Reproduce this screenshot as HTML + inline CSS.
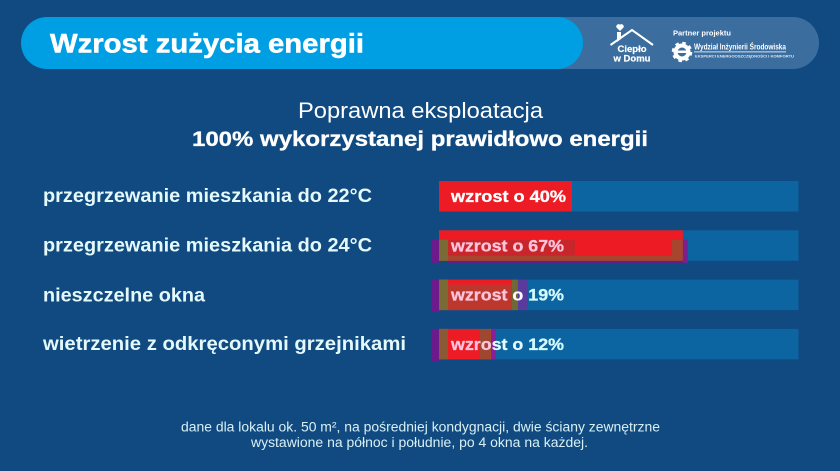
<!DOCTYPE html>
<html lang="pl">
<head>
<meta charset="utf-8">
<title>Wzrost zużycia energii</title>
<style>
html,body{margin:0;padding:0;background:#114a80;}
body{width:840px;height:471px;overflow:hidden;}
svg{display:block;font-family:"Liberation Sans",sans-serif;}
</style>
</head>
<body>
<svg id="chart" width="840" height="471" viewBox="0 0 840 471" xmlns="http://www.w3.org/2000/svg">
  <rect width="840" height="471" fill="#114a80"/>
  <rect x="300" y="17" width="519" height="52" rx="26" fill="#3b6d9f"/>
  <rect x="21" y="17" width="562" height="52" rx="26" fill="#009ee2"/>
  <text x="50" y="52.500" font-size="27" font-weight="bold" fill="#fff" stroke="#fff" stroke-width="0.500" textLength="314" lengthAdjust="spacingAndGlyphs">Wzrost zużycia energii</text>

  <g>
    <path d="M610.500 45 L632 30 L653 45" fill="none" stroke="#fff" stroke-width="2"/>
    <path d="M617 42 L621 39 V32 H617 Z" fill="#fff"/>
    <path d="M620 31 l-3.500 -3.500 a2.300 2.300 0 0 1 3.500 -2.800 a2.300 2.300 0 0 1 3.500 2.800 z" fill="#fff"/>
    <text x="632" y="52" font-size="9.500" font-weight="bold" fill="#fff" text-anchor="middle" stroke="#fff" stroke-width="0.200">Ciepło</text>
    <text x="632" y="61.500" font-size="9.500" font-weight="bold" fill="#fff" text-anchor="middle" stroke="#fff" stroke-width="0.200">w Domu</text>
  </g>
  <g>
    <text x="673" y="35.500" font-size="7.500" font-weight="bold" fill="#fff" textLength="58" lengthAdjust="spacingAndGlyphs">Partner projektu</text>
    <circle cx="682" cy="52" r="6.500" fill="none" stroke="#fff" stroke-width="4"/>
    <circle cx="682" cy="52" r="9" fill="none" stroke="#fff" stroke-width="2.500" stroke-dasharray="3.500 3.570"/>
    <rect x="676" y="50.500" width="12" height="2.500" fill="#fff"/>
    <text x="694" y="49.500" font-size="8.500" font-weight="bold" fill="#fff" textLength="92" lengthAdjust="spacingAndGlyphs">Wydział Inżynierii Środowiska</text>
    <rect x="694" y="51.500" width="92" height="0.800" fill="#fff"/>
    <text x="695" y="57.500" font-size="3.800" font-weight="bold" fill="#dfe9f3" textLength="99" lengthAdjust="spacingAndGlyphs">EKSPERCI ENERGOOSZCZĘDNOŚCI I KOMFORTU</text>
  </g>

  <text x="420.500" y="118" font-size="22" fill="#fff" text-anchor="middle" textLength="245" lengthAdjust="spacingAndGlyphs">Poprawna eksploatacja</text>
  <text x="420" y="146" font-size="21" font-weight="bold" fill="#fff" stroke="#fff" stroke-width="0.300" text-anchor="middle" textLength="456" lengthAdjust="spacingAndGlyphs">100% wykorzystanej prawidłowo energii</text>

  <g id="rows"></g>

  <text x="420.500" y="431.500" font-size="13.500" fill="#d8f0f5" text-anchor="middle" textLength="479" lengthAdjust="spacingAndGlyphs">dane dla lokalu ok. 50 m², na pośredniej kondygnacji, dwie ściany zewnętrzne</text>
  <text x="419.500" y="447" font-size="13.500" fill="#d8f0f5" text-anchor="middle" textLength="337" lengthAdjust="spacingAndGlyphs">wystawione na północ i południe, po 4 okna na każdej.</text>
</svg>
<script>
const categories = ["przegrzewanie mieszkania do 22°C", "przegrzewanie mieszkania do 24°C", "nieszczelne okna", "wietrzenie z odkręconymi grzejnikami"];
const growthPercent = [40, 67, 19, 12];
/* The infographic does not draw its rows to one common scale: drawn track units per percent point. */
const rowScale = [3.325, 3.64, 3.84, 3.42];

const NS = "http://www.w3.org/2000/svg";
const rowsGroup = document.getElementById("rows");
const TRACK_X = 439, TRACK_W = 359.5, ROW_H = 30.5;

function xScale(i, v) { return TRACK_X + v * rowScale[i]; }
function yScale(i) { return 181 + i * 49.3; }

function make(tag, attrs, parent) {
  const el = document.createElementNS(NS, tag);
  for (const k in attrs) el.setAttribute(k, attrs[k]);
  parent.appendChild(el);
  return el;
}
function box(parent, x, y, w, h, fill) {
  return make("rect", { x: x, y: y, width: Math.max(0, w), height: h, fill: fill }, parent);
}

categories.forEach(function (name, i) {
  const g = make("g", {}, rowsGroup);
  
  
  const top = yScale(i);
  const end = xScale(i, growthPercent[i]);

  const label = make("text", { x: 43, y: top + 21 + (i === 2 ? 1 : 0), "font-size": 19.5, "font-weight": "bold", fill: "#e4f9fb" }, g);
  
  
  label.textContent = name;
  const labelWidths = [329, 329, 162, 363];
  label.setAttribute("textLength", labelWidths[i]);
  label.setAttribute("lengthAdjust", "spacingAndGlyphs");

  const track = box(g, TRACK_X, top, TRACK_W, ROW_H, "#0c64a0");
  
  

  const bar = box(g, TRACK_X, top, end - TRACK_X, ROW_H, "#ed1c24");
  
  

  if (i > 0) {
    const ghost = make("g", {}, g);
    
    
    const gTop = i === 1 ? top + 9.5 : top;
    const gH = top + ROW_H + 2 - gTop;
    if (i === 1) {
      box(ghost, 448, gTop, Math.min(end - 11, 575) - 448, 16, "#c8262a");
      box(ghost, 448, top + ROW_H, end + 5 - 448, 2, "#6d1a8c");
      box(ghost, 432, gTop, 7, gH, "#6d1a8c");
      box(ghost, 439, gTop, 9, ROW_H - 9.5, "#7a6a35");
      box(ghost, 448, top + 25.5, end - 11 - 448, 5, "#a8452f");
      box(ghost, end - 11, gTop, 11, ROW_H - 9.5, "#a8452f");
      box(ghost, end, gTop, 5, gH, "#7c2090");
    } else {
      const olive = i === 2 ? 6 : 11;
      const purple = 16;
      box(ghost, 432, gTop, 7, gH, "#6d1a8c");
      box(ghost, 439, gTop, 9, ROW_H, i === 2 ? "#7a6a35" : "#8a5a35");
      if (i === 2) box(ghost, 448, top + 5, end - 448, ROW_H - 5, "#bd382c");
      box(ghost, end, gTop, olive, ROW_H, i === 2 ? "#6f6a35" : "#a0482f");
      box(ghost, end + olive, gTop, purple - olive, ROW_H, i === 2 ? "#5a3a9c" : "#88209a");
    }
  }

  const pct = growthPercent[i] + "%";
  const value = make("text", { x: 451, y: top + 21, "font-size": 17, "font-weight": "bold", stroke: "currentColor", "stroke-width": 0.3 }, g);
  
  
  value.setAttribute("textLength", i === 0 ? 115 : 113);
  value.setAttribute("lengthAdjust", "spacingAndGlyphs");
  const parts = i === 0 ? [["wzrost o " + pct, "#fff"]]
    : i === 1 ? [["wzrost o " + pct, "#ffc4dc"]]
    : i === 2 ? [["wzrost", "#ffc4dc"], [" o ", "#fff"], [pct, "#d2fbff"]]
    : [["wzro", "#ffc4dc"], ["st o ", "#e4fbff"], [pct, "#d2fbff"]];
  parts.forEach(function (p) {
    const t = make("tspan", { fill: p[1], style: "color:" + p[1] }, value);
    t.textContent = p[0];
  });
});
</script>
</body>
</html>
